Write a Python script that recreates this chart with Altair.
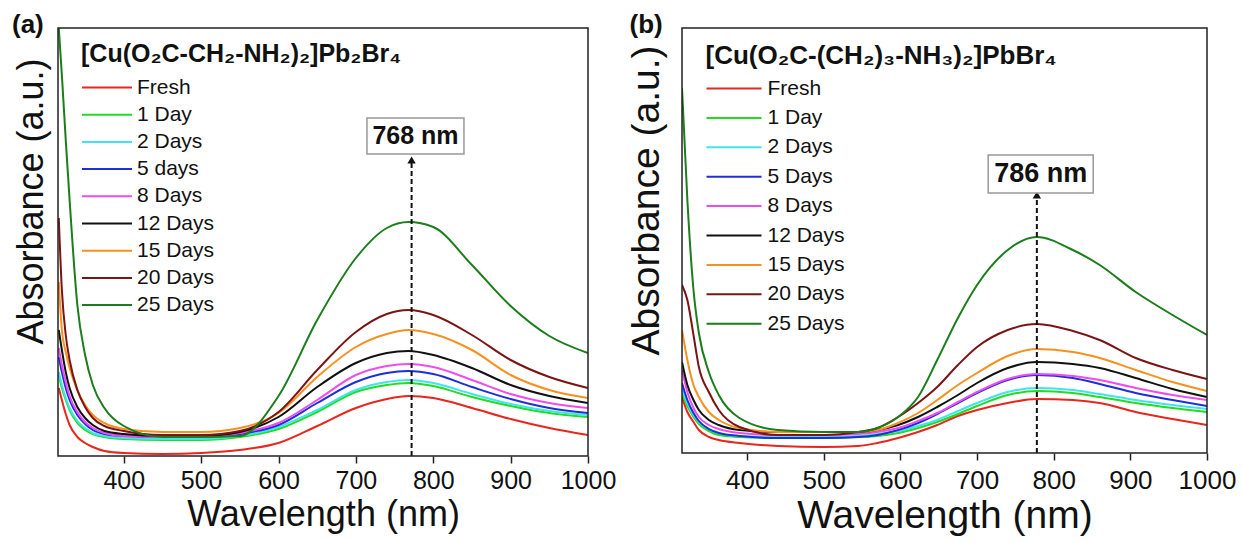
import altair as alt
import pandas as pd

FONT = "Liberation Sans"

# ---------------- data ----------------
series_a = ["Fresh", "1 Day", "2 Days", "5 days", "8 Days", "12 Days", "15 Days", "20 Days", "25 Days"]
series_b = ["Fresh", "1 Day", "2 Days", "5 Days", "8 Days", "12 Days", "15 Days", "20 Days", "25 Days"]
colors = ["#e8261c", "#22dc22", "#3fe4ec", "#1c2fd8", "#ef4cef", "#111111", "#f7901e", "#7b1414", "#1b7d1b"]

title_a = "[Cu(O₂C-CH₂-NH₂)₂]Pb₂Br₄"
title_b = "[Cu(O₂C-(CH₂)₃-NH₃)₂]PbBr₄"

wl_a = [316, 320, 325, 330, 340, 350, 360, 375, 400, 450, 500, 550, 600, 650, 700, 740, 768, 800, 850, 900, 950, 1000]
abs_a = {
    "Fresh":   [0.68, 0.56, 0.42, 0.31, 0.19, 0.13, 0.09, 0.05, 0.03, 0.02, 0.03, 0.06, 0.13, 0.30, 0.48, 0.57, 0.60, 0.58, 0.48, 0.37, 0.28, 0.21],
    "1 Day":   [0.81, 0.68, 0.56, 0.46, 0.33, 0.26, 0.22, 0.19, 0.17, 0.16, 0.16, 0.19, 0.27, 0.44, 0.64, 0.71, 0.73, 0.70, 0.59, 0.50, 0.43, 0.39],
    "2 Days":  [0.84, 0.71, 0.58, 0.48, 0.35, 0.28, 0.23, 0.20, 0.18, 0.17, 0.17, 0.20, 0.29, 0.46, 0.66, 0.74, 0.76, 0.73, 0.62, 0.52, 0.45, 0.41],
    "5 days":  [0.99, 0.84, 0.68, 0.56, 0.41, 0.32, 0.26, 0.22, 0.20, 0.19, 0.19, 0.22, 0.31, 0.53, 0.74, 0.83, 0.85, 0.82, 0.69, 0.57, 0.48, 0.43],
    "8 Days":  [1.08, 0.91, 0.74, 0.60, 0.44, 0.34, 0.28, 0.23, 0.20, 0.19, 0.19, 0.23, 0.33, 0.56, 0.81, 0.90, 0.92, 0.89, 0.76, 0.62, 0.53, 0.48],
    "12 Days": [1.26, 1.06, 0.84, 0.68, 0.49, 0.38, 0.31, 0.25, 0.22, 0.20, 0.20, 0.24, 0.39, 0.69, 0.93, 1.03, 1.05, 1.01, 0.88, 0.71, 0.60, 0.53],
    "15 Days": [1.74, 1.26, 1.04, 0.88, 0.66, 0.51, 0.41, 0.33, 0.27, 0.24, 0.24, 0.28, 0.43, 0.79, 1.09, 1.22, 1.26, 1.22, 1.06, 0.81, 0.66, 0.58],
    "20 Days": [2.38, 1.66, 1.21, 0.96, 0.66, 0.49, 0.38, 0.30, 0.25, 0.21, 0.21, 0.25, 0.44, 0.86, 1.24, 1.42, 1.46, 1.41, 1.21, 0.96, 0.79, 0.68],
    "25 Days": [4.28, 3.81, 3.16, 2.56, 1.51, 1.01, 0.71, 0.48, 0.30, 0.19, 0.19, 0.20, 0.60, 1.36, 1.98, 2.28, 2.34, 2.29, 1.91, 1.50, 1.20, 1.03],
}

wl_b = [315, 322, 330, 337, 350, 363, 390, 440, 500, 545, 570, 597, 623, 648, 675, 700, 740, 778, 825, 860, 907, 955, 1000]
abs_b = {
    "Fresh":   [0.56, 0.41, 0.31, 0.23, 0.16, 0.13, 0.10, 0.07, 0.06, 0.07, 0.10, 0.15, 0.21, 0.28, 0.37, 0.43, 0.50, 0.54, 0.53, 0.50, 0.41, 0.34, 0.28],
    "1 Day":   [0.60, 0.47, 0.36, 0.29, 0.22, 0.18, 0.16, 0.15, 0.15, 0.16, 0.17, 0.20, 0.25, 0.31, 0.39, 0.47, 0.58, 0.62, 0.60, 0.56, 0.50, 0.45, 0.41],
    "2 Days":  [0.65, 0.50, 0.38, 0.31, 0.24, 0.20, 0.17, 0.16, 0.16, 0.17, 0.19, 0.22, 0.27, 0.33, 0.42, 0.50, 0.61, 0.65, 0.63, 0.59, 0.53, 0.48, 0.44],
    "5 Days":  [0.70, 0.53, 0.40, 0.32, 0.24, 0.20, 0.17, 0.15, 0.15, 0.16, 0.18, 0.23, 0.30, 0.39, 0.50, 0.60, 0.73, 0.78, 0.75, 0.69, 0.60, 0.53, 0.47],
    "8 Days":  [0.83, 0.61, 0.45, 0.36, 0.28, 0.24, 0.20, 0.18, 0.18, 0.19, 0.21, 0.25, 0.32, 0.40, 0.51, 0.61, 0.74, 0.79, 0.77, 0.73, 0.65, 0.58, 0.53],
    "12 Days": [0.91, 0.68, 0.53, 0.43, 0.33, 0.28, 0.23, 0.21, 0.21, 0.21, 0.23, 0.28, 0.36, 0.46, 0.58, 0.70, 0.85, 0.91, 0.89, 0.85, 0.75, 0.64, 0.56],
    "15 Days": [1.23, 0.93, 0.68, 0.56, 0.41, 0.33, 0.25, 0.21, 0.21, 0.21, 0.23, 0.30, 0.40, 0.53, 0.68, 0.80, 0.97, 1.04, 1.01, 0.95, 0.83, 0.71, 0.62],
    "20 Days": [1.68, 1.53, 1.18, 0.86, 0.61, 0.43, 0.26, 0.18, 0.18, 0.21, 0.25, 0.36, 0.50, 0.66, 0.88, 1.06, 1.23, 1.29, 1.22, 1.13, 0.95, 0.83, 0.74],
    "25 Days": [3.65, 2.53, 1.63, 1.20, 0.81, 0.58, 0.35, 0.23, 0.21, 0.21, 0.25, 0.36, 0.56, 0.93, 1.35, 1.68, 2.03, 2.16, 2.03, 1.88, 1.61, 1.38, 1.18],
}

x_ticks = [400, 500, 600, 700, 800, 900, 1000]

# peak annotations: arrow position (nm), arrow tip (a.u.), label centre (nm, a.u.)
peak_a = {"x": 772, "tip": 2.96, "lx": 777, "ly": 3.20, "text": "768 nm"}
peak_b = {"x": 778, "tip": 2.58, "lx": 783, "ly": 2.79, "text": "786 nm"}


def long_frame(wl, table, names):
    rows = []
    for k, name in enumerate(names):
        for w, v in zip(wl, table[name]):
            rows.append({"wl": w, "abs": v, "series": name, "k": k})
    return pd.DataFrame(rows)


def panel(wl, table, names, ytop, legend_title, peak, panel_label, width, height, s):
    df = long_frame(wl, table, names)
    xs = alt.Scale(domain=[315, 1000], nice=False, zero=False)
    ys = alt.Scale(domain=[0, ytop], nice=False, zero=True)
    x_axis = alt.Axis(values=x_ticks, format="d", labelOverlap=False, labelFlush=False,
                      title="Wavelength (nm)", labelFontSize=s["lab"], titleFontSize=s["tit"],
                      titleFontWeight="normal", labelColor="#111", titleColor="#111",
                      tickSize=7, tickColor="#222", tickWidth=1.5, domain=False, grid=False,
                      labelPadding=s["lpad"], titlePadding=s["tpad"], labelFont=FONT, titleFont=FONT)
    y_axis = alt.Axis(title="Absorbance (a.u.)", labels=False, ticks=False, domain=False, grid=False,
                      titleFontSize=s["tit"], titleFontWeight="normal", titleColor="#111", titleFont=FONT,
                      titlePadding=s["ytpad"], titleY=s["ytY"])
    legend = alt.Legend(
        title=legend_title, orient="none", legendX=s["legX"], legendY=s["legY"],
        titleFontSize=s["ltfs"], titleFont=FONT, titleFontWeight="bold", titleColor="#111",
        titlePadding=s["legTP"],
        labelFontSize=21, labelFont=FONT, labelColor="#111", labelOffset=s["labOff"],
        symbolType=s["sym"], symbolSize=400, symbolStrokeWidth=2, rowPadding=s["rowPad"],
        padding=0, titleLimit=700, labelLimit=300,
    )
    lines = alt.Chart(df).mark_line(strokeWidth=2, clip=True, interpolate="monotone").encode(
        x=alt.X("wl:Q", scale=xs, axis=x_axis),
        y=alt.Y("abs:Q", scale=ys, axis=y_axis),
        color=alt.Color("series:N", scale=alt.Scale(domain=names, range=colors), legend=legend,
                        sort=names),
        order=alt.Order("k:Q"),
    )
    pk = pd.DataFrame([{"x": peak["x"], "y0": 0, "tip": peak["tip"], "lx": peak["lx"],
                        "ly": peak["ly"], "text": peak["text"]}])
    frame = alt.Chart(pk).mark_rect(fillOpacity=0, stroke="#222", strokeWidth=1.5).encode(
        x=alt.value(0), x2=alt.value(width), y=alt.value(0), y2=alt.value(height))
    dash = alt.Chart(pk).mark_rule(color="#111", strokeWidth=2, strokeDash=[5, 3]).encode(
        x=alt.X("x:Q", scale=xs), y=alt.Y("y0:Q", scale=ys), y2="tip:Q")
    head = alt.Chart(pk).mark_point(shape="triangle-up", filled=True, color="#111", size=70, opacity=1).encode(
        x=alt.X("x:Q", scale=xs), y=alt.Y("tip:Q", scale=ys))
    box = alt.Chart(pk).mark_rect(width=s["bw"], height=s["bh"], fill="white", stroke="#999",
                                  strokeWidth=1.5).encode(
        x=alt.X("lx:Q", scale=xs), y=alt.Y("ly:Q", scale=ys))
    txt = alt.Chart(pk).mark_text(font=FONT, fontSize=s["bfs"], fontWeight="bold", color="#111",
                                  align="center", baseline="middle").encode(
        x=alt.X("lx:Q", scale=xs), y=alt.Y("ly:Q", scale=ys), text="text:N")
    return alt.layer(lines, dash, head, box, txt, frame).properties(
        width=width, height=height,
        title=alt.TitleParams(panel_label, anchor="start", fontSize=26, fontWeight="bold",
                              font=FONT, color="#111", offset=-11, dx=s["pdx"]),
    )


style_a = dict(lab=25, tit=36, lpad=5.5, tpad=3.5, ytpad=8, ytY=173, legX=23, legY=13.5, legTP=10,
               ltfs=25, labOff=34, sym="M-1,0H4", rowPad=6.2, bw=97, bh=36, bfs=25, pdx=-1)
style_b = dict(lab=26, tit=39, lpad=7.5, tpad=3, ytpad=16, ytY=172, legX=23.5, legY=14.5, legTP=9,
               ltfs=26, labOff=40, sym="M-1,0H4.5", rowPad=8.4, bw=105, bh=38, bfs=27, pdx=2.5)

pa = panel(wl_a, abs_a, series_a, 4.28, title_a, peak_a, "(a)", 530, 428, style_a)
pb = panel(wl_b, abs_b, series_b, 4.25, title_b, peak_b, "(b)", 525, 425, style_b)

chart = alt.hconcat(pa, pb, spacing=11).resolve_scale(
    color="independent", x="independent", y="independent").properties(
    padding={"left": 12, "top": 12, "right": 0, "bottom": 0},
    background="white",
).configure_view(stroke=None)

chart.save("out.html", embed_options={"renderer": "svg", "actions": False})
